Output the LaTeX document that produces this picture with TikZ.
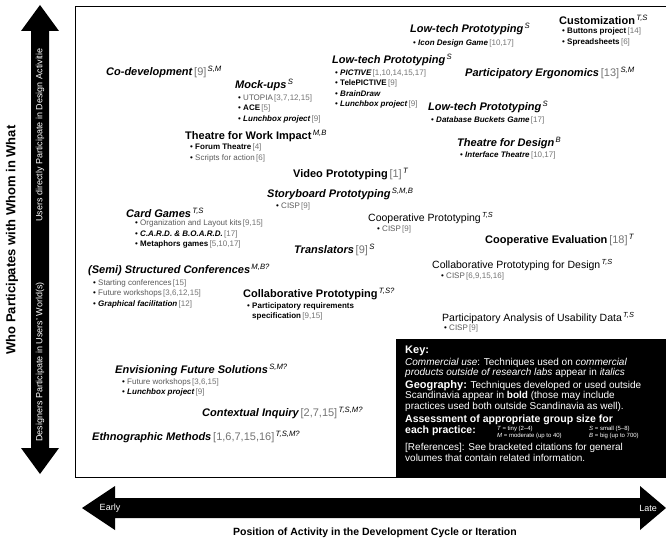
\documentclass[tikz,border=0pt]{standalone}
\usepackage{fontspec}
\setmainfont{Liberation Sans}
\usetikzlibrary{positioning}
\definecolor{refgray}{gray}{0.45}
\definecolor{litegray}{gray}{0.35}
\newcommand\rf[1]{{\mdseries\upshape\color{refgray}\,[#1]}}
\newcommand\gs[1]{\textsuperscript{\mdseries\itshape\,#1}}
\newcommand\itm{\textbullet\ }
\newcommand\plain[1]{{\mdseries\upshape\color{litegray}#1}}
\tikzset{
  hbi/.style={anchor=west,inner sep=0pt,font=\fontsize{11}{12}\selectfont\bfseries\itshape},
  hb/.style={anchor=west,inner sep=0pt,font=\fontsize{11}{12}\selectfont\bfseries},
  hr/.style={anchor=west,inner sep=0pt,font=\fontsize{10.5}{12}\selectfont},
  items/.style={anchor=north west,inner sep=0pt,align=left,font=\fontsize{8}{10.5}\selectfont},
  keytxt/.style={anchor=north west,inner sep=0pt,align=left,text=white,font=\fontsize{10}{10.3}\selectfont},
  axistxt/.style={inner sep=0pt,text=white,font=\fontsize{9}{10}\selectfont}
}
\begin{document}
\begin{tikzpicture}[x=1pt,y=-1pt]
\useasboundingbox (0,0) rectangle (666,540);

\draw[line width=1pt] (75,7) rectangle (666,477);
\fill (396,339) rectangle (666,477);

\fill (40,5) -- (59,31) -- (49,31) -- (49,448) -- (59,448) -- (40,474) -- (21,448) -- (31,448) -- (31,31) -- (21,31) -- cycle;
\node[rotate=90,inner sep=0pt,font=\fontsize{13}{14}\selectfont\bfseries] (whoLabel) at (12,240) {Who Participates with Whom in What};
\node[axistxt,rotate=90] (usersTxt) at (40,135) {Users directly Participate in Design Activitie};
\node[axistxt,rotate=90] (designersTxt) at (40,362) {Designers Participate in Users' World(s)};

\fill (82,508) -- (115,486) -- (115,498) -- (640,498) -- (640,486) -- (666,508) -- (640,530) -- (640,518) -- (115,518) -- (115,530) -- cycle;
\node[axistxt] (earlyTxt) at (110,508) {Early};
\node[axistxt] (lateTxt) at (648,508) {Late};
\node[inner sep=0pt,font=\fontsize{10.5}{12}\selectfont\bfseries] (posLabel) at (375,533) {Position of Activity in the Development Cycle or Iteration};

\node[hbi] (codev) at (106,72) {Co-development\rf{9}\gs{S,M}};

\node[hbi] (mockups) at (235,85) {Mock-ups\gs{S}};
\node[items] (mockupsL) at ([shift={(3,3)}]mockups.south west) {\itm\plain{UTOPIA}\rf{3,7,12,15}\\ \itm{\bfseries ACE}\rf{5}\\ \itm{\bfseries\itshape Lunchbox project}\rf{9}};

\node[hbi] (lowtechA) at (332,60) {Low-tech Prototyping\gs{S}};
\node[items] (lowtechAL) at ([shift={(3,3)}]lowtechA.south west) {\itm{\bfseries\itshape PICTIVE}\rf{1,10,14,15,17}\\ \itm{\bfseries TelePICTIVE}\rf{9}\\ \itm{\bfseries\itshape BrainDraw}\\ \itm{\bfseries\itshape Lunchbox project}\rf{9}};

\node[hbi] (lowtechB) at (410,29) {Low-tech Prototyping\gs{S}};
\node[items] (lowtechBL) at ([shift={(3,4)}]lowtechB.south west) {\itm{\bfseries\itshape Icon Design Game}\rf{10,17}};

\node[hb] (custom) at (559,20) {Customization\gs{T,S}};
\node[items] (customL) at ([shift={(3,3)}]custom.south west) {\itm{\bfseries Buttons project}\rf{14}\\ \itm{\bfseries Spreadsheets}\rf{6}};

\node[hbi] (ergo) at (465,73) {Participatory Ergonomics\rf{13}\gs{S,M}};

\node[hbi] (lowtechC) at (428,107) {Low-tech Prototyping\gs{S}};
\node[items] (lowtechCL) at ([shift={(3,3)}]lowtechC.south west) {\itm{\bfseries\itshape Database Buckets Game}\rf{17}};

\node[hbi] (thdesign) at (457,143) {Theatre for Design\gs{B}};
\node[items] (thdesignL) at ([shift={(3,3)}]thdesign.south west) {\itm{\bfseries\itshape Interface Theatre}\rf{10,17}};

\node[hb] (thwork) at (185,136) {Theatre for Work Impact\gs{M,B}};
\node[items] (thworkL) at ([shift={(5,2)}]thwork.south west) {\itm{\bfseries Forum Theatre}\rf{4}\\ \itm\plain{Scripts for action}\rf{6}};

\node[hb] (video) at (293,174) {Video Prototyping\rf{1}\gs{T}};

\node[hbi] (story) at (267,194) {Storyboard Prototyping\gs{S,M,B}};
\node[items] (storyL) at ([shift={(9,2)}]story.south west) {\itm\plain{CISP}\rf{9}};

\node[hr] (coopproto) at (368,218) {Cooperative Prototyping\gs{T,S}};
\node[items] (coopprotoL) at ([shift={(9,2)}]coopproto.south west) {\itm\plain{CISP}\rf{9}};

\node[hbi] (card) at (126,213) {Card Games\gs{T,S}};
\node[items] (cardL) at ([shift={(9,2)}]card.south west) {\itm\plain{Organization and Layout kits}\rf{9,15}\\ \itm{\bfseries\itshape C.A.R.D. \& B.O.A.R.D.}\rf{17}\\ \itm{\bfseries Metaphors games}\rf{5,10,17}};

\node[hbi] (transl) at (294,250) {Translators\rf{9}\gs{S}};

\node[hb] (coopeval) at (485,240) {Cooperative Evaluation\rf{18}\gs{T}};

\node[hbi] (semi) at (88,270) {(Semi) Structured Conferences\gs{M,B?}};
\node[items] (semiL) at ([shift={(5,3)}]semi.south west) {\itm\plain{Starting conferences}\rf{15}\\ \itm\plain{Future workshops}\rf{3,6,12,15}\\ \itm{\bfseries\itshape Graphical facilitation}\rf{12}};

\node[hr] (collabdes) at (432,265) {Collaborative Prototyping for Design\gs{T,S}};
\node[items] (collabdesL) at ([shift={(9,2)}]collabdes.south west) {\itm\plain{CISP}\rf{6,9,15,16}};

\node[hb] (collab) at (243,294) {Collaborative Prototyping\gs{T,S?}};
\node[items] (collabL) at ([shift={(4,2)}]collab.south west) {\itm{\bfseries Participatory requirements}\\ \hphantom{\itm}{\bfseries specification}\rf{9,15}};

\node[hr] (pauda) at (442,318) {Participatory Analysis of Usability Data\gs{T,S}};
\node[items] (paudaL) at ([shift={(2,1)}]pauda.south west) {\itm\plain{CISP}\rf{9}};

\node[hbi] (envision) at (115,370) {Envisioning Future Solutions\gs{S,M?}};
\node[items] (envisionL) at ([shift={(7,2)}]envision.south west) {\itm\plain{Future workshops}\rf{3,6,15}\\ \itm{\bfseries\itshape Lunchbox project}\rf{9}};

\node[hbi] (context) at (202,413) {Contextual Inquiry\rf{2,7,15}\gs{T,S,M?}};

\node[hbi] (ethno) at (92,437) {Ethnographic Methods\rf{1,6,7,15,16}\gs{T,S,M?}};

\node[keytxt,font=\fontsize{11}{12}\selectfont\bfseries] (keyHead) at (405,346) {Key:};
\node[keytxt,below=2pt of keyHead.south west,anchor=north west] (keyCom) {{\itshape Commercial use}: Techniques used on {\itshape commercial}\\{\itshape products outside of research labs} appear in {\itshape italics}};
\node[keytxt,below=2pt of keyCom.south west,anchor=north west] (keyGeo) {{\fontsize{11}{10.3}\selectfont\bfseries Geography:} Techniques developed or used outside\\Scandinavia appear in {\bfseries bold} (those may include\\practices used both outside Scandinavia as well).};
\node[keytxt,below=3pt of keyGeo.south west,anchor=north west,font=\fontsize{10.5}{11}\selectfont\bfseries] (keySize) {Assessment of appropriate group size for\\each practice:};
\node[keytxt,anchor=west,font=\fontsize{6}{7}\selectfont] (keyGroups) at (497,433) {\begin{tabular}{@{}p{92pt}@{}l@{}}{\itshape T} = tiny (2--4) & {\itshape S} = small (5--8)\\ {\itshape M} = moderate (up to 40) & {\itshape B} = big (up to 700)\end{tabular}};
\node[keytxt,below=8pt of keySize.south west,anchor=north west] (keyRef) {[References]: See bracketed citations for general\\volumes that contain related information.};
\end{tikzpicture}
\end{document}
